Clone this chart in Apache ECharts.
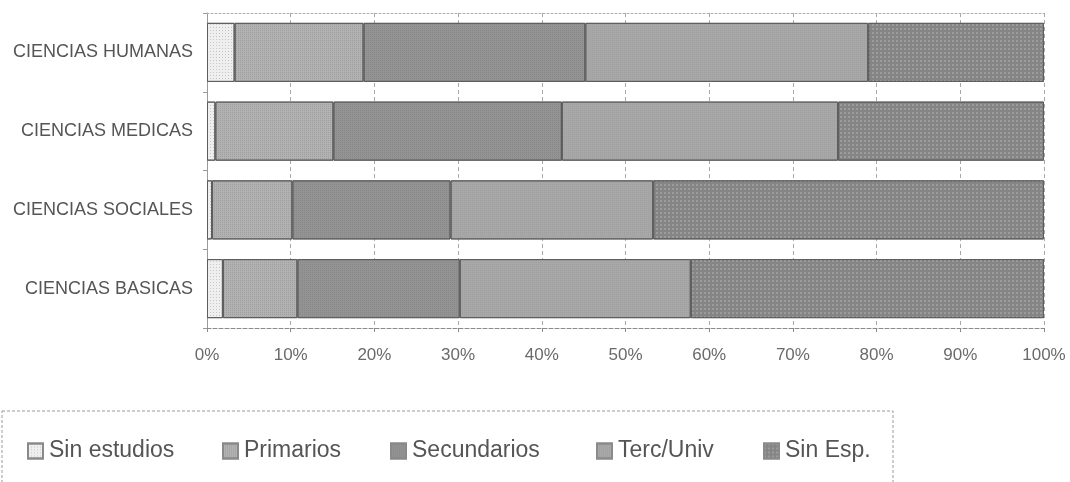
<!DOCTYPE html>
<html>
<head>
<meta charset="utf-8">
<style>html,body{margin:0;padding:0;background:#fff;}#c{width:1070px;height:482px;}</style>
<script src="https://cdn.jsdelivr.net/npm/echarts@6/dist/echarts.min.js"></script>
</head>
<body>
<div id="c"></div>
<script>
// Categories listed top-to-bottom as in the picture
const categories = ['CIENCIAS HUMANAS', 'CIENCIAS MEDICAS', 'CIENCIAS SOCIALES', 'CIENCIAS BASICAS'];
const seriesNames = ['Sin estudios', 'Primarios', 'Secundarios', 'Terc/Univ', 'Sin Esp.'];
// percentages per category (same order as categories)
const sinEstudios = [3.3, 1.0, 0.6, 1.9];
const primarios   = [15.4, 14.1, 9.6, 8.9];
const secundarios = [26.5, 27.3, 18.9, 19.4];
const tercUniv    = [33.8, 33.0, 24.2, 27.6];
const sinEsp      = [21.0, 24.6, 46.7, 42.2];
const xTicks = [0, 10, 20, 30, 40, 50, 60, 70, 80, 90, 100];

const values = [sinEstudios, primarios, secundarios, tercUniv, sinEsp];
const colors = ['#efefef', '#b2b2b2', '#939393', '#a8a8a8', '#858585'];
const decals = [
  {symbol: 'rect', symbolSize: 1, color: 'rgba(170,170,170,0.6)', dashArrayX: [1, 2], dashArrayY: [1, 2]},
  {symbol: 'rect', symbolSize: 1, color: 'rgba(140,140,140,0.5)', dashArrayX: [1, 1], dashArrayY: [1, 1]},
  {symbol: 'rect', symbolSize: 1, color: 'rgba(120,120,120,0.4)', dashArrayX: [1, 1], dashArrayY: [1, 1]},
  {symbol: 'rect', symbolSize: 1, color: 'rgba(150,150,150,0.5)', dashArrayX: [1, 1], dashArrayY: [1, 1]},
  {symbol: 'diamond', symbolSize: 1, color: 'rgba(200,200,200,0.7)', dashArrayX: [2, 2], dashArrayY: [2, 2]}
];
const legendLeft = [27, 222, 390, 596, 763];

const chart = echarts.init(document.getElementById('c'), null, {renderer: 'canvas'});
const font = 'Liberation Sans, Arial, sans-serif';

const option = {
  animation: false,
  backgroundColor: '#fff',
  aria: {enabled: false},
  grid: {left: 207, right: 26, top: 13, bottom: 154, containLabel: false},
  xAxis: [{
    type: 'value', min: 0, max: 100, interval: 10,
    axisLine: {show: true, lineStyle: {color: '#8a8a8a', type: 'dashed', width: 1}},
    axisTick: {show: true, length: 4, lineStyle: {color: '#8a8a8a'}},
    splitLine: {show: true, lineStyle: {color: '#a8a8a8', type: [4, 3], width: 1}},
    axisLabel: {formatter: v => v + '%', color: '#6a6a6a', fontSize: 17, fontFamily: font, margin: 19}
  }, {
    type: 'value', min: 0, max: 100, interval: 10, position: 'top',
    axisLine: {show: true, lineStyle: {color: '#b0b0b0', type: [2, 2], width: 1}},
    axisTick: {show: false}, axisLabel: {show: false}, splitLine: {show: false}
  }],
  yAxis: {
    type: 'category', data: categories, inverse: true,
    axisLine: {show: true, lineStyle: {color: '#9a9a9a', width: 1}},
    axisTick: {show: true, length: 4, lineStyle: {color: '#9a9a9a'}},
    axisLabel: {color: '#555', fontSize: 18, fontFamily: font, margin: 14}
  },
  legend: seriesNames.map((n, i) => ({
    data: [n], left: legendLeft[i], top: 438, padding: 0,
    itemWidth: 15, itemHeight: 15, itemGap: 0,
    icon: 'rect',
    itemStyle: {borderColor: '#8a8a8a'},
    textStyle: {color: '#555', fontSize: 23, fontFamily: font, lineHeight: 26, padding: [0, 0, 0, 1]}
  })),
  graphic: [{
    type: 'rect', shape: {x: 2, y: 411, width: 891, height: 100},
    style: {fill: 'none', stroke: '#9a9a9a', lineWidth: 1, lineDash: [3, 2]}, silent: true, z: 0
  }],
  series: seriesNames.map((n, i) => ({
    name: n, type: 'bar', stack: 'total', data: values[i],
    barCategoryGap: '25%',
    itemStyle: {color: colors[i], borderColor: '#5e5e5e', borderWidth: 1, decal: decals[i]}
  }))
};
chart.setOption(option);
</script>
</body>
</html>
